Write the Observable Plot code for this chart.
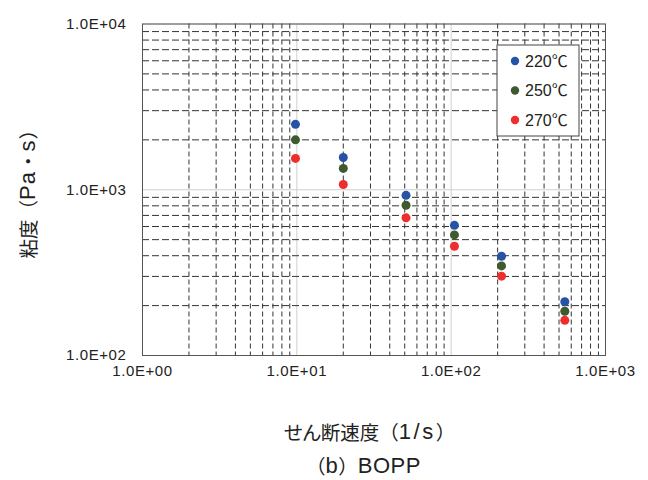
<!DOCTYPE html>
<html><head><meta charset="utf-8">
<script src="https://cdn.jsdelivr.net/npm/d3@7"></script>
<script src="https://cdn.jsdelivr.net/npm/@observablehq/plot@0.6"></script>
<style>
body{margin:0;background:#fff;}
#chart{position:relative;width:648px;height:480px;}
svg{font-family:"Liberation Sans","Noto Sans CJK JP",sans-serif;}
.cjk{font-family:"Noto Sans CJK JP",sans-serif;}
.kana{font-family:"Noto Sans CJK JP",sans-serif;font-feature-settings:"palt";}
.lat{font-family:"Liberation Sans",sans-serif;}
</style>
</head><body><div id="chart"></div>
<script>
const shearRate = [9.8, 20, 51, 105, 212, 545];
const series = ["220℃", "250℃", "270℃"];
const v220 = [2480, 1565, 925, 610, 397, 211];
const v250 = [2000, 1345, 806, 534, 347, 185];
const v270 = [1545, 1075, 677, 456, 301, 163];
const colors = ["#2753a6", "#3e5a2e", "#ee2d2d"];
const xMajor = [1, 10, 100, 1000];
const yMajor = [100, 1000, 10000];
// titles split into [text, kind] runs
const xTitle = [["せん断速度", "kana"], ["（", "cjk"], ["1/s", "lat"], ["）", "cjk"]];
const yTitle = [["粘度（", "cjk"], ["Pa", "lat"], ["・", "cjk"], ["s", "lat"], ["）", "cjk"]];
const caption = [["（", "cjk"], ["b", "lat"], ["）", "cjk"], ["BOPP", "lat"]];

const vals = [v220, v250, v270];
const data = [];
series.forEach((s, i) => shearRate.forEach((x, j) => data.push({series: s, x, y: vals[i][j]})));
const minor = (majors) => majors.slice(0, -1).flatMap(d => [2,3,4,5,6,7,8,9].map(k => d * k));
const fmt = d => "1.0E+" + String(Math.round(Math.log10(d))).padStart(2, "0");

const plot = Plot.plot({
  width: 648, height: 480,
  marginLeft: 142, marginRight: 43, marginTop: 23.5, marginBottom: 125,
  x: {type: "log", domain: [1, 1000], axis: null},
  y: {type: "log", domain: [100, 10000], axis: null},
  color: {domain: series, range: colors},
  style: {fontFamily: '"Liberation Sans","Noto Sans CJK JP",sans-serif', background: "#fff"},
  marks: [
    Plot.ruleX(xMajor, {stroke: "#cfcfcf", strokeWidth: 1}),
    Plot.ruleY(yMajor, {stroke: "#cfcfcf", strokeWidth: 1}),
    Plot.ruleX(minor(xMajor), {stroke: "#333", strokeWidth: 1, strokeDasharray: "5,3"}),
    Plot.ruleY(minor(yMajor), {stroke: "#333", strokeWidth: 1, strokeDasharray: "7,3"}),
    Plot.frame({stroke: "#555", strokeWidth: 1}),
    Plot.text(xMajor, {x: d => d, text: fmt, frameAnchor: "bottom", dy: 20, fontSize: 15, fill: "#222", className: "tick"}),
    Plot.text(yMajor, {y: d => d, text: fmt, frameAnchor: "left", dx: -16, textAnchor: "end", fontSize: 15, fill: "#222", className: "tick"}),
    Plot.dot(data, {x: "x", y: "y", fill: "series", r: 4.5, stroke: "none"})
  ]
});
document.getElementById("chart").appendChild(plot);
d3.select(plot).selectAll(".tick text").attr("letter-spacing", "0.6px");

const svg = d3.select(plot);
function title(runs, x, y, rotate, latSpacing) {
  const t = svg.append("text").attr("text-anchor", "middle").attr("dominant-baseline", "central")
    .attr("fill", "#222")
    .attr("transform", `translate(${x},${y})` + (rotate ? ` rotate(${rotate})` : ""));
  runs.forEach(([s, kind]) => t.append("tspan").attr("class", kind)
    .attr("font-size", kind === "lat" ? 22 : 19.5)
    .attr("letter-spacing", kind === "lat" ? latSpacing : 0).text(s));
}
const xs = plot.scale("x").range, ys = plot.scale("y").range;
const cx = (xs[0] + xs[1]) / 2, cy = (ys[0] + ys[1]) / 2;
title(xTitle, cx - 4, 431, 0, 2.5);
title(caption, cx - 10, 465, 0, 0.5);
title(yTitle, 27, cy, -90, 1);

// legend
const lg = svg.append("g").attr("text-anchor", "start");
lg.append("rect").attr("x", 497).attr("y", 45).attr("width", 82).attr("height", 91)
  .attr("fill", "#fff").attr("stroke", "#444").attr("stroke-width", 1);
series.forEach((s, i) => {
  const y = 61 + i * 29.5;
  lg.append("circle").attr("cx", 515).attr("cy", y).attr("r", 4.2).attr("fill", colors[i]);
  lg.append("text").attr("x", 525).attr("y", y).attr("dy", "0.35em").attr("font-size", 16)
    .attr("text-anchor", "start").attr("fill", "#222").text(s);
});
</script>
</body></html>
